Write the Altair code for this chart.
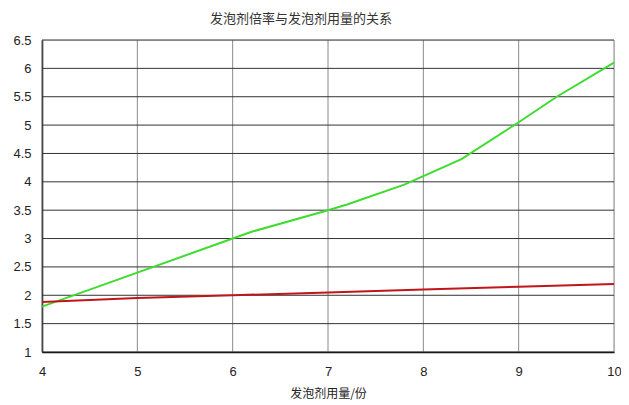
import altair as alt
import pandas as pd

green_x = [4, 5, 6, 6.2, 7, 7.2, 7.8, 8, 8.4, 9, 9.4, 10]
green_y = [1.8, 2.4, 3.0, 3.12, 3.5, 3.6, 3.95, 4.1, 4.4, 5.05, 5.5, 6.1]
red_x = [4, 5, 6, 7, 8, 9, 10]
red_y = [1.88, 1.95, 2.0, 2.05, 2.1, 2.15, 2.2]
x_ticks = [4, 5, 6, 7, 8, 9, 10]
y_ticks = [1, 1.5, 2, 2.5, 3, 3.5, 4, 4.5, 5, 5.5, 6, 6.5]

df = pd.concat([
    pd.DataFrame({"x": green_x, "y": green_y, "s": "倍率"}),
    pd.DataFrame({"x": red_x, "y": red_y, "s": "对照"}),
])

num_font = "Liberation Sans"
cjk_font = "Noto Sans CJK SC"

xscale = alt.Scale(domain=[4, 10], nice=False, zero=False)
yscale = alt.Scale(domain=[1, 6.5], nice=False, zero=False)

xaxis = alt.Axis(values=x_ticks, title="发泡剂用量/份", grid=False, ticks=False,
                 labelFont=num_font, labelFontSize=13, labelColor="#222222",
                 labelPadding=13, domainColor="#000000", domainWidth=1.5,
                 titleFont=cjk_font, titleFontSize=12, titleFontWeight="normal",
                 titleColor="#222222", titlePadding=10, labelFlush=False)
yaxis = alt.Axis(values=y_ticks, title=None, grid=False, ticks=False,
                 labelFont=num_font, labelFontSize=13, labelColor="#222222",
                 labelPadding=11, domainColor="#000000", domainWidth=1.5,
                 format="~g")

grid_x = alt.Chart(pd.DataFrame({"x": x_ticks})).mark_rule(color="#8a8a8a", strokeWidth=1).encode(
    x=alt.X("x:Q", scale=xscale, axis=xaxis)
)
grid_y = alt.Chart(pd.DataFrame({"y": y_ticks})).mark_rule(color="#333333", strokeWidth=1).encode(
    y=alt.Y("y:Q", scale=yscale, axis=yaxis)
)

lines = alt.Chart(df).mark_line(strokeWidth=2).encode(
    x=alt.X("x:Q", scale=xscale, axis=xaxis),
    y=alt.Y("y:Q", scale=yscale, axis=yaxis),
    color=alt.Color("s:N", scale=alt.Scale(domain=["倍率", "对照"], range=["#3ddc2e", "#c0161b"]), legend=None),
)

chart = alt.layer(grid_x, grid_y, lines).properties(
    width=572,
    height=312,
    autosize=alt.AutoSizeParams(type="none"),
    padding={"left": 34, "top": 32, "right": 7, "bottom": 52},
    title=alt.TitleParams("发泡剂倍率与发泡剂用量的关系", font=cjk_font, fontSize=13,
                          fontWeight="normal", color="#333333", dx=-27, offset=8),
).configure_view(stroke=None).configure(background="#ffffff")

chart.save("out.html", embed_options={"renderer": "svg", "actions": False})
